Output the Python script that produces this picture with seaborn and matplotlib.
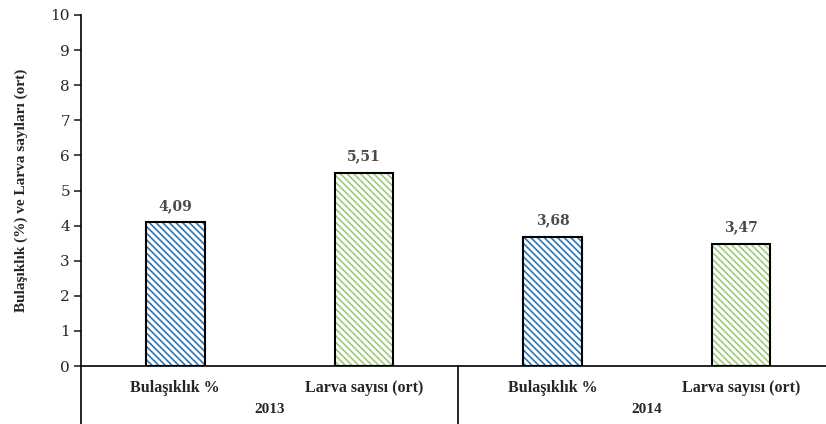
import pandas as pd
import seaborn as sns
import matplotlib.pyplot as plt
from matplotlib.patches import Rectangle

# data
years = ["2013", "2013", "2014", "2014"]
metrics = ["Bulaşıklık %", "Larva sayısı (ort)", "Bulaşıklık %", "Larva sayısı (ort)"]
values = [4.09, 5.51, 3.68, 3.47]
yticks = list(range(0, 11))

df = pd.DataFrame({"year": years, "metric": metrics, "value": values})
df["key"] = df["year"] + "_" + df["metric"]

hatch_colors = {"Bulaşıklık %": "#2E75B6", "Larva sayısı (ort)": "#9CCB7C"}

sns.set_style("white")
plt.rcParams["hatch.linewidth"] = 1.2

fig = plt.figure(figsize=(8.26, 4.24), dpi=100)
ax = fig.add_axes([81 / 826, 1 - 366 / 424, 1 - 81 / 826, 351 / 424])

sns.barplot(data=df, x="key", y="value", color="white", width=0.31,
            saturation=1, ax=ax)

for p, m in zip(ax.patches, df["metric"]):
    p.set_facecolor("white")
    p.set_edgecolor(hatch_colors[m])
    p.set_hatch("\\" * 5)
    p.set_linewidth(0)
    ax.add_patch(Rectangle(p.get_xy(), p.get_width(), p.get_height(),
                           fill=False, edgecolor="black", lw=1.5, zorder=3))

# value labels
labels = [f"{v:.2f}".replace(".", ",") for v in df["value"]]
ax.bar_label(ax.containers[0], labels=labels, padding=7, fontsize=10,
             fontweight="bold", color="#4a4a4a", family="DejaVu Serif")

ax.set_ylim(0, 10)
ax.set_xlim(-0.5, 3.45)
ax.set_yticks(yticks)
ax.set_yticklabels([str(t) for t in yticks], family="DejaVu Serif", fontsize=11)
ax.tick_params(axis="y", direction="out", length=5, width=1.2, left=True, pad=3)
ax.tick_params(axis="x", length=0, pad=10)
ax.set_xticks(range(len(df)))
ax.set_xticklabels(df["metric"], family="Liberation Serif", fontweight="bold",
                   fontsize=11.5)
ax.set_xlabel("")
ax.set_ylabel("Bulaşıklık (%) ve Larva sayıları (ort)", family="Liberation Serif",
              fontweight="bold", fontsize=11, labelpad=16)

for s in ["top", "right"]:
    ax.spines[s].set_visible(False)
for s in ["left", "bottom"]:
    ax.spines[s].set_color("black")
    ax.spines[s].set_linewidth(1.2)

# group separators and year labels below the axis
ax.axvline(-0.5, ymin=-0.17, ymax=0, color="black", lw=1.2, clip_on=False)
ax.axvline(1.5, ymin=-0.17, ymax=0, color="black", lw=1.2, clip_on=False)
for i, yr in enumerate(["2013", "2014"]):
    ax.text(2 * i + 0.5, -0.125, yr, transform=ax.get_xaxis_transform(),
            ha="center", va="center", family="Liberation Serif",
            fontweight="bold", fontsize=11)

fig.savefig("out.png", dpi=100)
